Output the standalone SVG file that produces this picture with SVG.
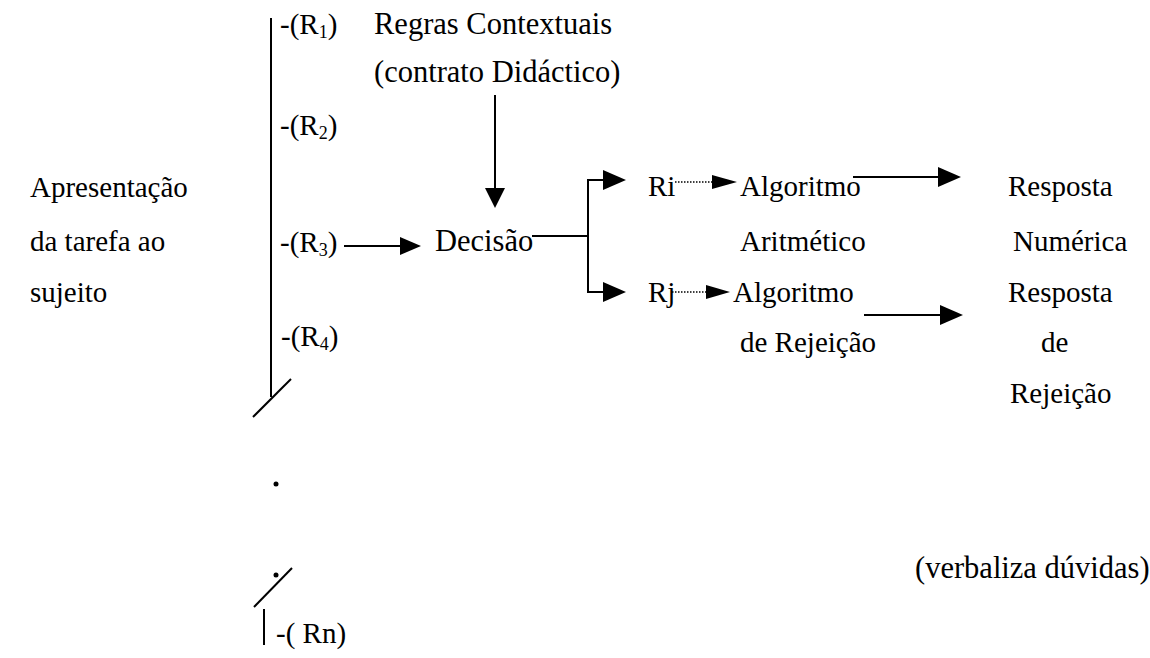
<svg xmlns="http://www.w3.org/2000/svg" width="1150" height="658" viewBox="0 0 1150 658">
<style>
text{font-family:"Liberation Serif","Times New Roman",serif;font-size:29px;fill:#000}
.big{font-size:30.5px}
.sub{font-size:18px}
.ln{stroke:#000;stroke-width:2;fill:none}
.dot{stroke:#000;stroke-width:1.5;stroke-dasharray:1.5 1.5;fill:none}
.hd{fill:#000}
</style>
<rect width="1150" height="658" fill="#fff"/>
<g id="task"><text x="30" y="197">Apresentação</text><text x="30" y="251">da tarefa ao</text><text x="30" y="302">sujeito</text></g>
<g id="rules-axis">
<line class="ln" x1="271" y1="18" x2="271" y2="397"/>
<line class="ln" x1="253" y1="417" x2="291" y2="379"/>
<circle cx="276" cy="484" r="2.5"/>
<circle cx="276" cy="575" r="2.5"/>
<line class="ln" x1="254" y1="607" x2="292" y2="568"/>
<line class="ln" x1="264" y1="609" x2="264" y2="645"/>
</g>
<g id="r1"><text x="280" y="34">-(R<tspan class="sub" dy="4">1</tspan><tspan dy="-4">)</tspan></text></g>
<g id="regras"><text class="big" x="374" y="34">Regras Contextuais</text><text class="big" x="374" y="82">(contrato Didáctico)</text></g>
<g id="r2"><text x="280" y="135">-(R<tspan class="sub" dy="4">2</tspan><tspan dy="-4">)</tspan></text></g>
<g id="r3"><text x="280" y="252">-(R<tspan class="sub" dy="4">3</tspan><tspan dy="-4">)</tspan></text></g>
<g id="r4"><text x="281" y="346">-(R<tspan class="sub" dy="4">4</tspan><tspan dy="-4">)</tspan></text></g>
<g id="rn"><text x="276" y="643">-( Rn)</text></g>
<g id="decisao"><text class="big" x="435" y="251">Decisão</text></g>
<g id="ri"><text x="648" y="196">Ri</text></g>
<g id="rj"><text x="648" y="302">Rj</text></g>
<g id="alg-arit"><text x="740" y="196">Algoritmo</text><text x="740" y="251">Aritmético</text></g>
<g id="alg-rej"><text x="733" y="302">Algoritmo</text><text x="740" y="352">de Rejeição</text></g>
<g id="resp-num"><text x="1008" y="196">Resposta</text><text x="1013" y="251">Numérica</text></g>
<g id="resp-rej"><text x="1008" y="302">Resposta</text><text x="1041" y="352">de</text><text x="1010" y="403">Rejeição</text></g>
<g id="verbaliza"><text class="big" x="915" y="578">(verbaliza dúvidas)</text></g>
<g id="connectors">
<line class="ln" x1="344" y1="246" x2="402" y2="246"/><polygon class="hd" points="400,237 421,246 400,255"/>
<line class="ln" x1="495" y1="95" x2="495" y2="190"/><polygon class="hd" points="485,188 505,188 495,208"/>
<line class="ln" x1="532" y1="236" x2="588" y2="236"/>
<polyline class="ln" points="605,180 588,180 588,292 605,292"/>
<polygon class="hd" points="603,170 626,180 603,190"/>
<polygon class="hd" points="603,282 626,292 603,302"/>
<line class="dot" x1="675" y1="182" x2="714" y2="182"/><polygon class="hd" points="712,175 737,182 712,189"/>
<line class="dot" x1="672" y1="292" x2="708" y2="292"/><polygon class="hd" points="706,285 730,292 706,299"/>
<line class="ln" x1="853" y1="177" x2="940" y2="177"/><polygon class="hd" points="938,167 961,177 938,187"/>
<line class="ln" x1="864" y1="315" x2="942" y2="315"/><polygon class="hd" points="940,305 963,315 940,325"/>
</g>
</svg>
